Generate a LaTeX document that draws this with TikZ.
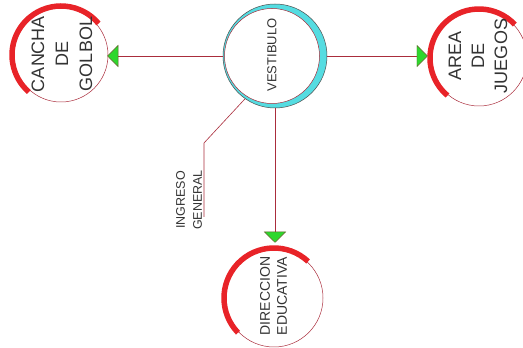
\documentclass[tikz,border=0pt]{standalone}
\usepackage{fontspec}
\setmainfont{Liberation Sans}
\usetikzlibrary{arrows.meta}
\definecolor{linea}{RGB}{170,45,60}
\definecolor{rojo}{RGB}{232,35,40}
\definecolor{celeste}{RGB}{85,220,225}
\definecolor{verde}{RGB}{45,215,45}

\begin{document}
\begin{tikzpicture}[x=1pt,y=1pt,
    sala/.style={circle,draw=linea,line width=.5pt,minimum size=#1,inner sep=0pt},
    rotulo/.style={rotate=90,align=center,text=black!80,inner sep=0pt},
    flujo/.style={draw=linea,line width=.6pt,
      -{Triangle[width=22pt,length=11pt,fill=verde,color=olive!60!black,line width=.4pt]}}]
  \useasboundingbox (0,0) rectangle (523,348);
  % anillo del vestibulo
  \coordinate (vestin) at (272,292);
  \fill[celeste,even odd rule] (275,292) circle (52) (vestin) circle (47.5);
  \draw[linea,line width=.5pt] (vestin) circle (47.5);
  \node[sala=104pt,draw=gray!60!black] (vest) at (275,292) {};
  \node[sala=94pt] (cancha) at (61,293) {};
  \node[sala=96pt] (area) at (479,290) {};
  \node[sala=98pt] (dir) at (274,50) {};
  % arcos rojos
  \foreach \n/\a/\b/\r in {cancha/40/229/49,area/43/230/49,dir/47/224/50}
    \draw[rojo,line width=5.5pt] ([shift={(\a:\r)}]\n.center) arc[start angle=\a,end angle=\b,radius=\r];
  % flujos
  \draw[flujo,shorten >=-1pt] (vest.west) -- (vest.west -| cancha.east);
  \draw[flujo,shorten >=3pt] (vest.east) -- (vest.east -| area.west);
  \draw[flujo,shorten >=6pt] (vest.south) -- (vest.south |- dir.north);
  % ingreso
  \coordinate (ingA) at (204,205);
  \coordinate (ingB) at (204,131);
  \draw[linea,line width=.6pt] (vest.235) -- (ingA) -- (ingB);
  % rotulos
  \node[rotulo,font=\fontsize{13}{16}\selectfont] (tvest) at (272,293) {VESTIBULO};
  \node[rotulo,font=\fontsize{18}{24}\selectfont] (tcancha) at (62,294) {CANCHA\\DE\\GOLBOL};
  \node[rotulo,font=\fontsize{18}{23}\selectfont] (tarea) at (478,292) {AREA\\DE\\JUEGOS};
  \node[rotulo,font=\fontsize{14}{17}\selectfont] (tdir) at (273.5,52) {DIRECCION\\EDUCATIVA};
  \node[rotulo,font=\fontsize{12.5}{17}\selectfont] (tingreso) at (189,148) {INGRESO\\GENERAL};
\end{tikzpicture}
\end{document}
